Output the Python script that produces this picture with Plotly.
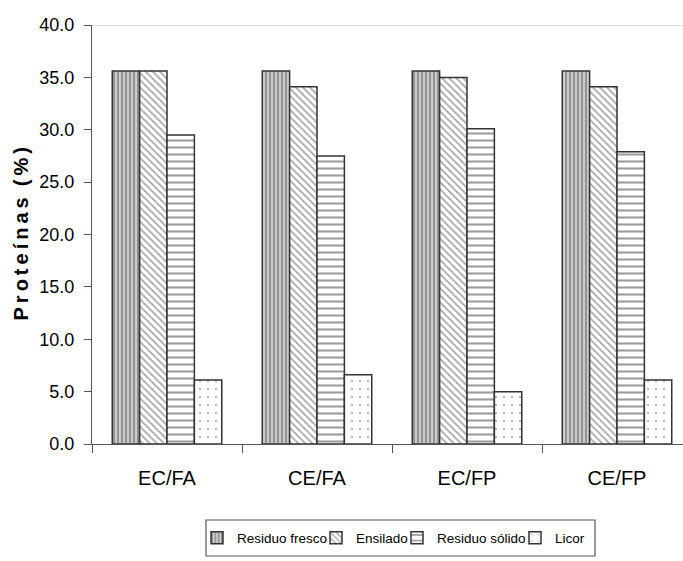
import plotly.graph_objects as go

# Protein content (%) per treatment and fraction
categories = ["EC/FA", "CE/FA", "EC/FP", "CE/FP"]
residuo_fresco = [35.6, 35.6, 35.6, 35.6]
ensilado = [35.6, 34.1, 35.0, 34.1]
residuo_solido = [29.5, 27.5, 30.1, 27.9]
licor = [6.1, 6.6, 5.0, 6.1]

series_names = ["Residuo fresco", "Ensilado", "Residuo sólido", "Licor"]
y_ticks = [0, 5, 10, 15, 20, 25, 30, 35, 40]
y_ticktext = [f"{v:.1f}" for v in y_ticks]

W, H = 683, 561
L, T, B = 92, 25, 117
plot_w = W - L
plot_h = H - T - B
cat_px = 150  # pixel width of one category slot

FONT = "Liberation Sans, Arial, sans-serif"
EDGE = "#333333"

styles = [
    dict(shape="|", size=4, solidity=0.45, fgcolor="#4d4d4d", bgcolor="#cccccc"),
    dict(shape="\\", size=5, solidity=0.35, fgcolor="#555555", bgcolor="#ffffff"),
    dict(shape="-", size=7, solidity=0.3, fgcolor="#3a3a3a", bgcolor="#ffffff"),
    dict(shape=".", size=8, solidity=0.08, fgcolor="#777777", bgcolor="#ffffff"),
]

fig = go.Figure()
all_values = [residuo_fresco, ensilado, residuo_solido, licor]
legend_ids = ["legend", "legend2", "legend3", "legend4"]
for name, vals, st, lg in zip(series_names, all_values, styles, legend_ids):
    fig.add_trace(go.Bar(
        x=categories, y=vals, name=name, legend=lg, showlegend=True,
        marker=dict(color="#ffffff", pattern=st,
                    line=dict(color=EDGE, width=1.5)),
    ))


def px_x(p):
    return (p - L) / plot_w


def px_y(p):
    return (T + plot_h - p) / plot_h


# legend entries placed side by side inside one framed box
legend_text_x = [237, 356, 437, 555]  # pixel x where each entry text starts
leg_font = dict(family=FONT, size=13.5, color="#000000")
for lg, tx in zip(legend_ids, legend_text_x):
    fig.update_layout(**{lg: dict(
        x=px_x(tx - 40), y=px_y(538),
        xanchor="left", yanchor="middle", orientation="h",
        font=leg_font, bgcolor="rgba(0,0,0,0)", borderwidth=0,
        itemwidth=30, tracegroupgap=0,
    )})

fig.update_layout(
    width=W, height=H, showlegend=True,
    margin=dict(l=L, r=0, t=T, b=B, pad=0),
    plot_bgcolor="#ffffff", paper_bgcolor="#ffffff",
    barmode="group", bargap=0.27, bargroupgap=0,
    font=dict(family=FONT, color="#000000"),
    xaxis=dict(
        type="category", range=[-0.5, -0.5 + plot_w / cat_px],
        showline=True, linecolor="#555555", linewidth=1.2,
        ticks="outside", tickson="boundaries", ticklen=8,
        tickcolor="#555555", tickwidth=1.2, ticklabelstandoff=16,
        tickfont=dict(family=FONT, size=20), showgrid=False,
    ),
    yaxis=dict(
        range=[0, 40], tickvals=y_ticks, ticktext=y_ticktext,
        showline=True, linecolor="#555555", linewidth=1.2,
        ticks="outside", ticklen=7, tickcolor="#555555", tickwidth=1.2,
        ticklabelstandoff=6,
        tickfont=dict(family=FONT, size=18), showgrid=False,
        zeroline=False,
    ),
    shapes=[
        dict(type="line", xref="paper", yref="y", x0=0, x1=1, y0=40, y1=40,
             line=dict(color="#c0c0c0", width=1.2)),
        dict(type="rect", xref="paper", yref="paper",
             x0=px_x(206), x1=px_x(595), y0=px_y(556), y1=px_y(520),
             line=dict(color="#555555", width=1.2), fillcolor="rgba(0,0,0,0)"),
    ],
    annotations=[
        dict(text="P\u2009r\u2009o\u2009t\u2009e\u2009í\u2009n\u2009a\u2009s  (\u2009%\u2009)",
             textangle=-90,
             xref="paper", yref="paper", x=px_x(20), y=0.5,
             xanchor="center", yanchor="middle", showarrow=False,
             font=dict(family=FONT, size=20, color="#000000", weight="bold")),
    ],
)

fig.write_html("out.html")
